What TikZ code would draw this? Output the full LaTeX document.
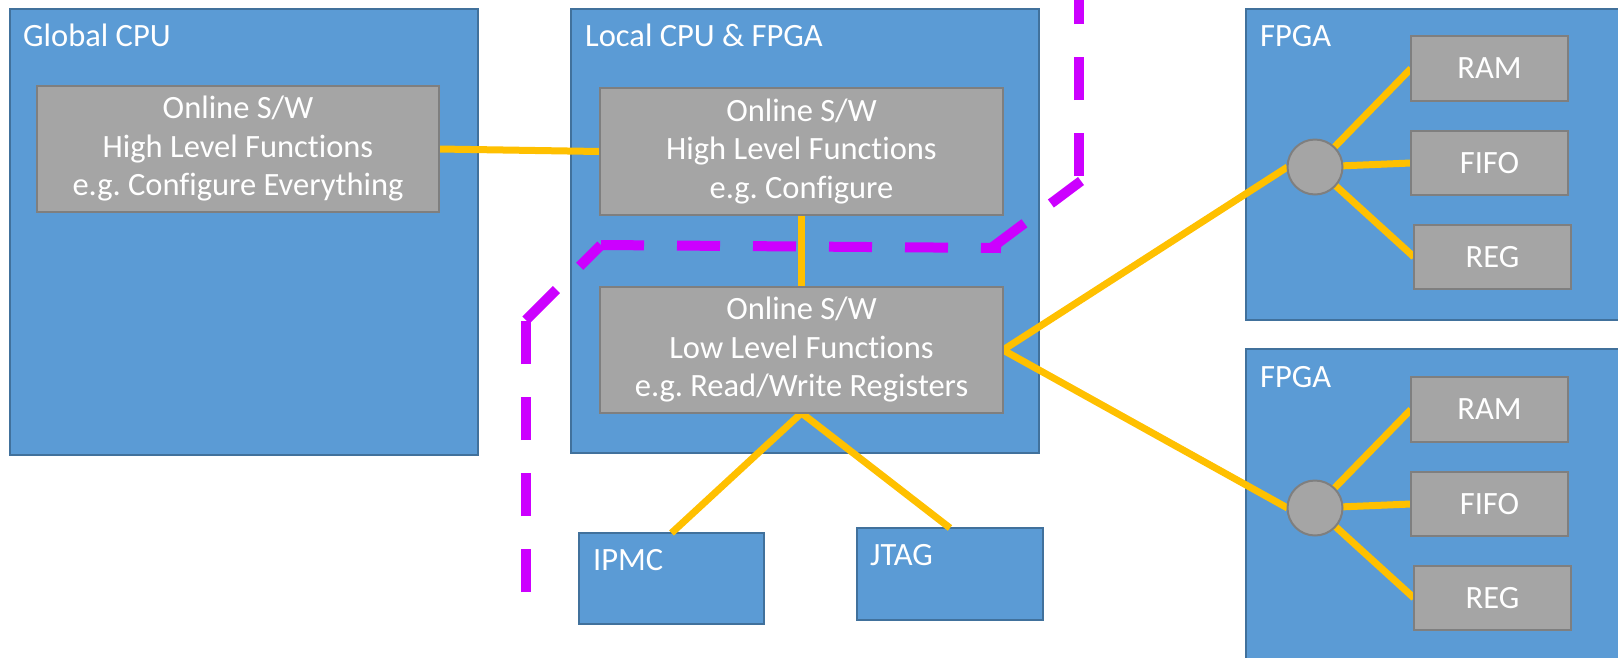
\documentclass[tikz,border=0pt]{standalone}
\usepackage{fontspec}
\setmainfont{Carlito}[Ligatures=NoCommon]
\frenchspacing
\pgfdeclarelayer{boxes}
\pgfdeclarelayer{wires}
\pgfsetlayers{boxes,wires,main}
\definecolor{bfill}{HTML}{5B9BD5}
\definecolor{bline}{HTML}{41719C}
\definecolor{gfill}{HTML}{A5A5A5}
\definecolor{gline}{HTML}{7F7F7F}
\definecolor{wirec}{HTML}{FFC000}
\definecolor{purp}{HTML}{CC00FF}
\begin{document}
\begin{tikzpicture}[x=1pt,y=-1pt,
  bluebox/.style={draw=bline, fill=bfill, line width=2pt, anchor=north west, inner sep=0pt, outer sep=0pt},
  graybox/.style={draw=gline, fill=gfill, line width=2pt, anchor=north west, inner sep=0pt, outer sep=0pt, text=white, align=center, font=\fontsize{32.5}{38.5}\selectfont},
  boxtitle/.style={anchor=base west, text=white, inner sep=0pt, font=\fontsize{32.5}{38.5}\selectfont},
  hub/.style={circle, draw=gline, fill=gfill, line width=2pt, minimum size=55pt, inner sep=0pt, outer sep=0pt},
  wire/.style={draw=wirec, line width=7pt},
  sepline/.style={draw=purp, line width=10pt, dash pattern=on 43pt off 33pt}
]
\useasboundingbox (0,0) rectangle (1618,657);

\begin{pgfonlayer}{boxes}
\fill[white] (0,0) rectangle (1618,657);
\node[bluebox, minimum width=468pt, minimum height=446pt] (global) at (10,9) {};
\node[bluebox, minimum width=468pt, minimum height=444pt] (local) at (571,9) {};
\node[bluebox, minimum width=185pt, minimum height=91pt] (ipmc) at (579,533) {};
\node[bluebox, minimum width=186pt, minimum height=92pt] (jtag) at (857,528) {};
\node[bluebox, minimum width=400pt, minimum height=311pt] (fpga1) at (1246,9) {};
\node[bluebox, minimum width=400pt, minimum height=400pt] (fpga2) at (1246,349) {};
\end{pgfonlayer}

\node[boxtitle] (gtitle) at (23,46) {Global CPU};
\node[boxtitle] (ltitle) at (585,46) {Local CPU \& FPGA};
\node[boxtitle] (ititle) at (593,570) {IPMC};
\node[boxtitle] (jtitle) at (870,565) {JTAG};
\node[boxtitle] (f1title) at (1260,46) {FPGA};
\node[boxtitle] (f2title) at (1260,387) {FPGA};

\node[graybox, minimum width=402pt, minimum height=126pt] (ghigh) at (37,86) {Online S/W\\High Level Functions\\e.g. Configure Everything};
\node[graybox, minimum width=403pt, minimum height=127pt] (lhigh) at (600,88) {Online S/W\\High Level Functions\\e.g. Configure};
\node[graybox, minimum width=403pt, minimum height=126pt] (llow) at (600,287) {Online S/W\\Low Level Functions\\e.g. Read/Write Registers};

\node[graybox, minimum width=157pt, minimum height=65pt] (ram1) at (1411,36) {RAM};
\node[graybox, minimum width=157pt, minimum height=64pt] (fifo1) at (1411,131) {FIFO};
\node[graybox, minimum width=157pt, minimum height=64pt] (reg1) at (1414,225) {REG};
\node[hub] (c1) at (1315,167) {};

\node[graybox, minimum width=157pt, minimum height=65pt] (ram2) at (1411,377) {RAM};
\node[graybox, minimum width=157pt, minimum height=64pt] (fifo2) at (1411,472) {FIFO};
\node[graybox, minimum width=157pt, minimum height=64pt] (reg2) at (1414,566) {REG};
\node[hub] (c2) at (1315,508) {};

\begin{pgfonlayer}{wires}
\draw[wire] (ghigh.east) -- (lhigh.west);
\draw[wire] (lhigh.south) -- (llow.north);
\draw[wire] (llow.south) -- (ipmc.north);
\draw[wire] (llow.south) -- (jtag.north);
\draw[wire] (llow.east) -- (c1.west);
\draw[wire] (llow.east) -- (c2.west);
\draw[wire] (c1.center) -- (ram1.west);
\draw[wire] (c1.center) -- (fifo1.west);
\draw[wire] (c1.center) -- (reg1.west);
\draw[wire] (c2.center) -- (ram2.west);
\draw[wire] (c2.center) -- (fifo2.west);
\draw[wire] (c2.center) -- (reg2.west);
\end{pgfonlayer}

\coordinate (p1) at (526,592);
\coordinate (p2) at (526,320);
\coordinate (p3) at (601,245);
\coordinate (p4) at (1001,248);
\coordinate (p5) at (990,249);
\coordinate (p6) at (1081,181);
\coordinate (p7) at (1079,176);
\coordinate (p8) at (1079,-10);
\draw[sepline] (p1) -- (p2);
\draw[sepline] (p2) -- (p3);
\draw[sepline] (p3) -- (p4);
\draw[sepline] (p5) -- (p6);
\draw[sepline] (p7) -- (p8);
\end{tikzpicture}
\end{document}
